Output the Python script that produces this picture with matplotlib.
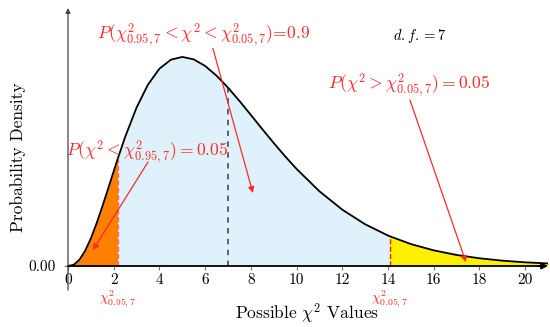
import matplotlib
matplotlib.use("Agg")
import matplotlib.pyplot as plt

plt.rcParams['font.family'] = 'serif'
plt.rcParams['font.serif'] = ['cmr10', 'DejaVu Serif']
plt.rcParams['mathtext.fontset'] = 'cm'
plt.rcParams['axes.unicode_minus'] = False

# chi-square density (d.f. = 7)
x_vals = [0, 0.25, 0.5, 0.75, 1, 1.25, 1.5, 1.75, 2, 2.167, 2.5, 3, 3.5, 4, 4.5,
          5, 5.5, 6, 6.5, 7, 7.5, 8, 8.5, 9, 9.5, 10, 11, 12, 13, 14, 14.067,
          15, 16, 17, 18, 19, 20, 21]
density = [0, 0.00073, 0.00366, 0.0089, 0.01613, 0.02487, 0.03462, 0.04492,
           0.05535, 0.06222, 0.0753, 0.09251, 0.10592, 0.11518, 0.12042,
           0.12204, 0.12062, 0.11677, 0.11109, 0.10412, 0.09636, 0.08818,
           0.07991, 0.0718, 0.06401, 0.05667, 0.04362, 0.03289, 0.02436,
           0.01779, 0.01741, 0.01282, 0.00914, 0.00645, 0.00451, 0.00313,
           0.00216, 0.00148]

lower_crit = 2.167   # chi2_{0.95,7}
upper_crit = 14.067  # chi2_{0.05,7}
mean_val = 7
dens_lower = 0.06222
dens_upper = 0.01741
dens_mean = 0.10412
xticks = [0, 2, 4, 6, 8, 10, 12, 14, 16, 18, 20]

red = '#ff2a2a'

fig = plt.figure(figsize=(5.5, 3.27), dpi=100)
ax = fig.add_axes([68 / 550, 1 - 290 / 327, 480 / 550, 282 / 327])
ax.set_xlim(0, 21)
ax.set_ylim(-0.014, 0.1506)

# shaded regions
ax.fill_between(x_vals, density, where=[v <= lower_crit for v in x_vals],
                color='#ff8000', linewidth=0)
ax.fill_between(x_vals, density,
                where=[lower_crit <= v <= upper_crit for v in x_vals],
                color='#dff1fa', linewidth=0)
ax.fill_between(x_vals, density, where=[v >= upper_crit for v in x_vals],
                color='#fff000', linewidth=0)
ax.plot(x_vals, density, color='black', lw=1.3, zorder=4)

# critical values and mean
ax.plot([lower_crit, lower_crit], [0, dens_lower], ls='--', color='#ff6b6b', lw=1)
ax.plot([upper_crit, upper_crit], [0, dens_upper], ls='--', color='#ff2020', lw=1)
ax.plot([mean_val, mean_val], [0, dens_mean], ls=(0, (3, 3)), color='#555566', lw=1.3)

# axes as arrows
for s in ['top', 'right', 'left']:
    ax.spines[s].set_visible(False)
ax.spines['bottom'].set_position(('data', 0))
ax.spines['bottom'].set_linewidth(1.3)
ax.spines['bottom'].set_bounds(0, 20.7)
ax.annotate('', xy=(21, 0), xytext=(20.5, 0),
            arrowprops=dict(arrowstyle='-|>', color='black', lw=1.3,
                            mutation_scale=9, shrinkA=0, shrinkB=0), zorder=5)
ax.annotate('', xy=(0, 0.1506), xytext=(0, -0.014), annotation_clip=False,
            arrowprops=dict(arrowstyle='-|>', color='#444444', lw=0.9,
                            mutation_scale=7, shrinkA=0, shrinkB=0))

ax.set_xticks(xticks)
ax.set_xticklabels([str(t) for t in xticks])
ax.set_yticks([0])
ax.set_yticklabels(['0.00'])
ax.tick_params(axis='x', length=3, width=0.8, color='#777777', pad=2, labelsize=11)
ax.tick_params(axis='y', length=3, width=0.8, color='#777777', pad=6, labelsize=11)

ax.text(0.498, -0.085, r'Possible $\chi^2$ Values', transform=ax.transAxes,
        ha='center', va='center', fontsize=12.5)
ax.text(-0.105, 0.472, 'Probability Density', transform=ax.transAxes,
        ha='center', va='center', rotation=90, fontsize=12.5)

# critical value labels
ax.text(lower_crit, -0.0188, r'$\chi^2_{0.95,7}$', color=red, ha='center',
        va='center', fontsize=10)
ax.text(upper_crit, -0.0188, r'$\chi^2_{0.05,7}$', color=red, ha='center',
        va='center', fontsize=10)

# annotations
ax.text(1.27, 0.1345, r'$P(\chi^2_{0.95,7} < \chi^2 < \chi^2_{0.05,7})$=0.9',
        color=red, fontsize=12.7, ha='left', va='center')
ax.annotate('', xy=(8.09, 0.0426), xytext=(6.34, 0.127),
            arrowprops=dict(arrowstyle='-|>', color=red, lw=0.9,
                            mutation_scale=9, shrinkA=0, shrinkB=0), zorder=6)
ax.text(11.37, 0.1057, r'$P(\chi^2 > \chi^2_{0.05,7}) = 0.05$',
        color=red, fontsize=12.7, ha='left', va='center')
ax.annotate('', xy=(17.41, 0.0023), xytext=(14.96, 0.0969),
            arrowprops=dict(arrowstyle='-|>', color=red, lw=0.9,
                            mutation_scale=9, shrinkA=0, shrinkB=0), zorder=6)
ax.text(-0.1, 0.0665, r'$P(\chi^2 < \chi^2_{0.95,7}) = 0.05$',
        color=red, fontsize=12.7, ha='left', va='center', zorder=6)
ax.annotate('', xy=(1.09, 0.0093), xytext=(3.5, 0.0607),
            arrowprops=dict(arrowstyle='-|>', color=red, lw=0.9,
                            mutation_scale=9, shrinkA=0, shrinkB=0), zorder=6)
ax.text(14.2, 0.1345, r'$d.f. = 7$', color='black', fontsize=10.5,
        ha='left', va='center')

fig.savefig('out.png', dpi=100)
